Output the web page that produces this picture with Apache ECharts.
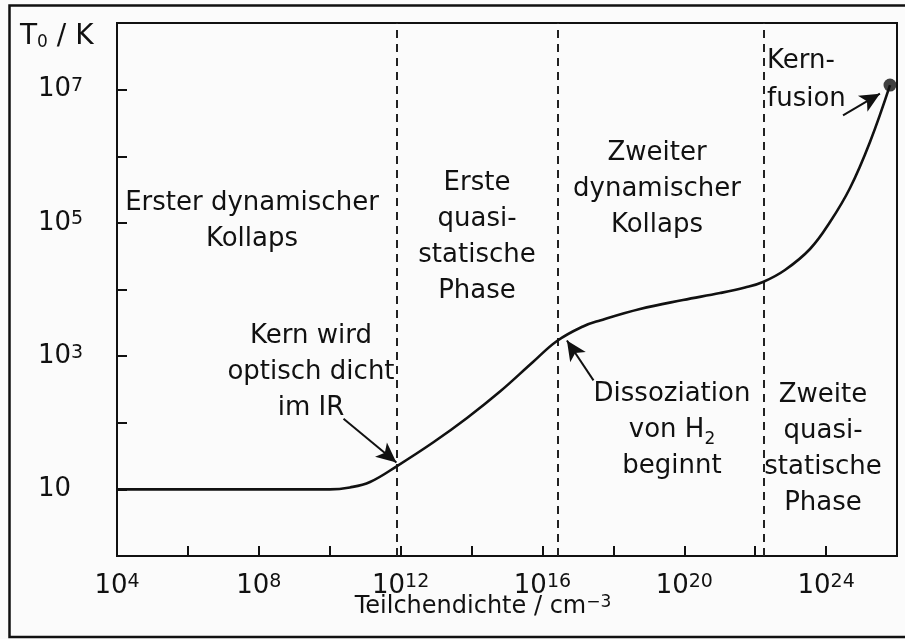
<!DOCTYPE html>
<html>
<head>
<meta charset="utf-8">
<script src="https://cdn.jsdelivr.net/npm/echarts@6/dist/echarts.min.js"></script>
<style>
  html, body { margin: 0; padding: 0; background: #fff; }
  #chart { width: 905px; height: 639px; }
</style>
</head>
<body>
<div id="chart"></div>
<script>
// Collapse track of a protostellar core: particle density (cm^-3) vs. central temperature T0 (K)
const density = [1e4, 1e6, 1e8, 1e10, 3.7e10, 1.37e11, 7.9e11, 8.2e12, 7.45e13, 6.35e14, 5.4e15,
                 2.57e16, 1.39e17, 4.2e17, 5.65e18, 9.2e19, 1.02e21, 5.16e21, 1.66e22, 6.93e22,
                 3.52e23, 1.29e24, 4.73e24, 1.73e25, 6.35e25];
const temperature = [10, 10, 10, 10, 10.7, 12.9, 22.4, 50.5, 118, 294, 816,
                     1687, 2786, 3428, 5097, 6955, 8851, 10720, 12970, 19630,
                     40550, 103000, 334000, 1.64e6, 1.17e7];

// Densities separating the four phases
const phaseBounds = [7.6e11, 2.7e16, 1.7e22];

// Onset of nuclear fusion
const fusionPoint = [6.35e25, 1.17e7];

// Pointer arrows: [from, to] as [density, temperature]
const arrows = [
  [[2.45e10, 115], [7.6e11, 25.4]],
  [[2.75e17, 432], [4.9e16, 1720]],
  [[3.0e24, 4.1e6], [3.3e25, 8.7e6]]
];

// Decade exponents that carry a tick label
const xLabelExps = [4, 8, 12, 16, 20, 24];
const yLabelExps = [1, 3, 5, 7];

const FONT = '"DejaVu Sans", "Liberation Sans", sans-serif';
const INK = '#111';
const lg = Math.log10;

const chart = echarts.init(document.getElementById('chart'), null, { renderer: 'canvas' });

const tickRich = {
  b: { fontSize: 26, fontFamily: FONT, color: INK, lineHeight: 26 },
  s: { fontSize: 19, fontFamily: FONT, color: INK, lineHeight: 10, verticalAlign: 'top' }
};
function powerLabel(exp) {
  return exp === 1 ? '{b|10}' : '{b|10}{s|' + exp + '}';
}

const noteRich = {
  sub: { fontSize: 17, fontFamily: FONT, fill: INK, lineHeight: 22, verticalAlign: 'bottom' }
};
function note(x, y, text, opts) {
  opts = opts || {};
  return {
    type: 'text', x: x, y: y, silent: true, z: 50,
    style: {
      text: text, fill: INK,
      fontSize: opts.size || 26, fontFamily: FONT,
      lineHeight: opts.lineHeight || 36,
      textAlign: opts.align || 'center',
      verticalAlign: 'middle', textVerticalAlign: 'middle',
      rich: opts.rich || noteRich
    }
  };
}

const option = {
  backgroundColor: '#fbfbfb',
  animation: false,
  grid: {
    left: 117, right: 8, top: 23, bottom: 83,
    show: true, borderColor: INK, borderWidth: 2, backgroundColor: 'transparent'
  },
  xAxis: {
    type: 'value', min: 4, max: 26, interval: 2,
    axisLine: { show: true, lineStyle: { color: INK, width: 2 } },
    axisTick: { show: true, inside: true, length: 10, lineStyle: { color: INK, width: 2 } },
    splitLine: { show: false },
    axisLabel: {
      margin: 17, verticalAlign: 'top',
      formatter: v => xLabelExps.indexOf(Math.round(v)) >= 0 ? powerLabel(Math.round(v)) : '',
      rich: tickRich
    }
  },
  yAxis: {
    type: 'value', min: 0, max: 8, interval: 1,
    axisLine: { show: true, lineStyle: { color: INK, width: 2 } },
    axisTick: { show: true, inside: true, length: 10, lineStyle: { color: INK, width: 2 } },
    splitLine: { show: false },
    axisLabel: {
      margin: 79, align: 'left',
      formatter: v => yLabelExps.indexOf(Math.round(v)) >= 0 ? powerLabel(Math.round(v)) : '',
      rich: tickRich
    }
  },
  series: [
    {
      name: 'track', type: 'line', z: 5,
      data: density.map((d, i) => [lg(d), lg(temperature[i])]),
      smooth: 0.4, showSymbol: false,
      lineStyle: { color: INK, width: 2.6 },
      markLine: {
        silent: true, symbol: ['none', 'none'],
        label: { show: false },
        lineStyle: { color: '#222', width: 2, type: [8, 6] },
        data: phaseBounds.map(b => ({ xAxis: lg(b) }))
      }
    },
    {
      name: 'arrows', type: 'line', data: [], z: 6,
      markLine: {
        silent: true, symbol: ['none', 'arrow'], symbolSize: [14, 20],
        label: { show: false },
        lineStyle: { color: INK, width: 2, type: 'solid' },
        data: arrows.map(a => [
          { coord: [lg(a[0][0]), lg(a[0][1])] },
          { coord: [lg(a[1][0]), lg(a[1][1])] }
        ])
      }
    },
    {
      name: 'fusion', type: 'scatter', z: 7,
      data: [[lg(fusionPoint[0]), lg(fusionPoint[1])]],
      symbolSize: 13, itemStyle: { color: INK }
    }
  ],
  graphic: [
    {
      type: 'rect', silent: true, z: 40,
      shape: { x: 9.5, y: 5.5, width: 920, height: 631.5 },
      style: { fill: 'none', stroke: INK, lineWidth: 2.5 }
    },
    note(20, 37, 'T{sub|0} / K', {
      size: 28, align: 'left', lineHeight: 28,
      rich: { sub: { fontSize: 17, fontFamily: FONT, fill: INK, lineHeight: 9, verticalAlign: 'bottom' } }
    }),
    note(483, 607, 'Teilchendichte / cm{sup|\u22123}', {
      size: 24, lineHeight: 25,
      rich: { sup: { fontSize: 17, fontFamily: FONT, fill: INK, lineHeight: 10, verticalAlign: 'top' } }
    }),
    note(252, 221, 'Erster dynamischer\nKollaps'),
    note(477, 237, 'Erste\nquasi-\nstatische\nPhase'),
    note(657, 189, 'Zweiter\ndynamischer\nKollaps'),
    note(311, 372, 'Kern wird\noptisch dicht\nim IR'),
    note(672, 430, 'Dissoziation\nvon H{sub|2}\nbeginnt'),
    note(823, 449, 'Zweite\nquasi-\nstatische\nPhase'),
    note(767, 80, 'Kern-\nfusion', { align: 'left', lineHeight: 38 })
  ]
};

chart.setOption(option);
</script>
</body>
</html>
